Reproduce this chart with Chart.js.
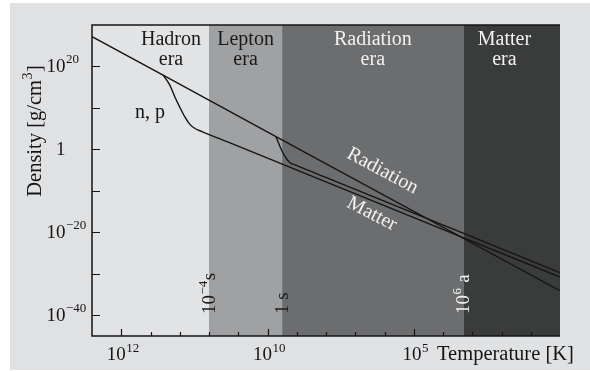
<!DOCTYPE html>
<html><head><meta charset="utf-8">
<script src="https://cdn.jsdelivr.net/npm/chart.js@4/dist/chart.umd.min.js"></script>
<style>html,body{margin:0;padding:0;background:#fff;}#wrap{width:590px;height:371px;}</style>
</head><body><div id="wrap"><canvas id="c" width="590" height="371"></canvas></div>
<script>
// ---- data (x: schematic temperature axis units, y: log10 density) ----
const eraBounds = [-1, 3, 5.5, 11.7, 15];
const eraNames = [["Hadron", "era"], ["Lepton", "era"], ["Radiation", "era"], ["Matter", "era"]];
const eraLabelAt = [1.7, 4.25, 8.6, 13.1];
const epochBase = ["10", "1 s", "10"];
const epochSup = ["−4", "", "6"];
const epochTail = ["s", "", " a"];
const xTickValues = [0, 1, 2, 3, 4, 5, 6, 7, 8, 9, 10, 11, 12, 13, 14];
const xMajorValues = [0, 5, 10];
const xLabelBase = ["10", "10", "10"];
const xLabelSup = ["12", "10", "5"];
const yTickValues = [20, 10, 0, -10, -20, -30, -40];
const yLabelValues = [20, 0, -20, -40];
const yLabelBase = ["10", "1", "10", "10"];
const yLabelSup = ["20", "", "−20", "−40"];
const radiation = [[-1, 27.2], [1.43, 17.9], [5.29, 3.07], [15, -34.07]];
const nucleons = [[1.43, 17.94], [1.66, 15.5], [1.83, 12.7], [2.0, 10.2], [2.17, 7.9], [2.34, 6.1], [2.51, 5.1], [2.76, 4.3], [3.72, 1.55], [15, -30.8]];
const leptons = [[5.29, 3.07], [5.43, 0.65], [5.6, -1.76], [5.77, -3.23], [5.94, -3.75], [7.14, -7.16], [15, -29.73]];

const eraColors = ['#e2e3e5', '#a0a1a3', '#6c6d6f', '#3a3b3b'];
const eraTextColors = ['#1a1a1a', '#1a1a1a', '#f2f2f2', '#f2f2f2'];
const epochTextColors = ['#1a1a1a', '#1a1a1a', '#f2f2f2'];
const FONT = '"Liberation Serif", "Times New Roman", serif';

function f(sz) { return sz + 'px ' + FONT; }
// draw base + superscript + tail, starting at x (left), baseline y
function supText(ctx, x, y, base, sup, tail, bs, ss, raise) {
  ctx.textAlign = 'left'; ctx.textBaseline = 'alphabetic';
  ctx.font = f(bs); ctx.fillText(base, x, y); x += ctx.measureText(base).width;
  if (sup) { ctx.font = f(ss); ctx.fillText(sup, x + 0.5, y - raise); x += ctx.measureText(sup).width + 1; }
  if (tail) { ctx.font = f(bs); ctx.fillText(tail, x, y); x += ctx.measureText(tail).width; }
  return x;
}
function supWidth(ctx, base, sup, tail, bs, ss) {
  ctx.font = f(bs); let w = ctx.measureText(base).width + (tail ? ctx.measureText(tail).width : 0);
  if (sup) { ctx.font = f(ss); w += ctx.measureText(sup).width + 1; }
  return w;
}

const bgPlugin = {
  id: 'bg',
  beforeDraw(chart) {
    const ctx = chart.ctx, a = chart.chartArea, xs = chart.scales.x;
    ctx.save();
    ctx.fillStyle = '#ffffff'; ctx.fillRect(0, 0, chart.width, chart.height);
    ctx.fillStyle = '#e0e1e3'; ctx.fillRect(10, 3, chart.width - 10, chart.height - 4);
    for (let i = 0; i < eraColors.length; i++) {
      const x0 = xs.getPixelForValue(eraBounds[i]), x1 = xs.getPixelForValue(eraBounds[i + 1]);
      ctx.fillStyle = eraColors[i];
      ctx.fillRect(x0, a.top, x1 - x0, a.bottom - a.top);
    }
    ctx.restore();
  }
};

const fgPlugin = {
  id: 'fg',
  afterDatasetsDraw(chart) {
    const ctx = chart.ctx, a = chart.chartArea, xs = chart.scales.x, ys = chart.scales.y;
    ctx.save();
    // frame
    ctx.strokeStyle = '#151515'; ctx.lineWidth = 1.5;
    ctx.beginPath();
    ctx.moveTo(a.right, a.top); ctx.lineTo(a.left, a.top); ctx.lineTo(a.left, a.bottom); ctx.lineTo(a.right, a.bottom);
    ctx.stroke();
    // ticks
    ctx.lineWidth = 1.2;
    ctx.beginPath();
    yTickValues.forEach(v => { const y = Math.round(ys.getPixelForValue(v)) + 0.5; ctx.moveTo(a.left, y); ctx.lineTo(a.left + 8, y); });
    xTickValues.forEach(v => {
      const x = Math.round(xs.getPixelForValue(v)) + 0.5;
      const len = xMajorValues.includes(v) ? 7 : 4;
      ctx.moveTo(x, a.bottom); ctx.lineTo(x, a.bottom - len);
    });
    ctx.stroke();
    // tick labels
    ctx.fillStyle = '#151515';
    yLabelValues.forEach((v, i) => {
      const y = ys.getPixelForValue(v) + 6;
      ctx.font = f(19); const wb = ctx.measureText(yLabelBase[i]).width;
      supText(ctx, 65.5 - wb, y, yLabelBase[i], yLabelSup[i], '', 19, 13, 9);
    });
    xMajorValues.forEach((v, i) => {
      const w = supWidth(ctx, xLabelBase[i], xLabelSup[i], '', 19, 13);
      const x = xs.getPixelForValue(v) + 2 - w / 2;
      supText(ctx, x, 360, xLabelBase[i], xLabelSup[i], '', 19, 13, 8);
    });
    // axis titles
    ctx.font = f(20.5); ctx.textAlign = 'left';
    ctx.fillText('Temperature [K]', 437, 360);
    ctx.save();
    const tw = supWidth(ctx, 'Density [g/cm', '3', ']', 20.5, 14);
    ctx.translate(40.5, 131); ctx.rotate(-Math.PI / 2);
    supText(ctx, -tw / 2, 0, 'Density [g/cm', '3', ']', 20.5, 14, 9);
    ctx.restore();
    // era labels
    eraNames.forEach((nm, i) => {
      ctx.fillStyle = eraTextColors[i]; ctx.font = f(20); ctx.textAlign = 'center'; ctx.textBaseline = 'alphabetic';
      const x = xs.getPixelForValue(eraLabelAt[i]);
      ctx.fillText(nm[0], x, a.top + 20);
      ctx.fillText(nm[1], x, a.top + 40);
    });
    // epoch labels (vertical)
    for (let i = 0; i < 3; i++) {
      ctx.save();
      ctx.fillStyle = epochTextColors[i];
      ctx.translate(xs.getPixelForValue(eraBounds[i + 1]) + 6, 314);
      ctx.rotate(-Math.PI / 2);
      supText(ctx, 0, 0, epochBase[i], epochSup[i], epochTail[i], 19, 13, 8);
      ctx.restore();
    }
    // curve labels
    ctx.fillStyle = '#151515'; ctx.font = f(20); ctx.textAlign = 'center'; ctx.textBaseline = 'alphabetic';
    ctx.fillText('n, p', xs.getPixelForValue(0.98), ys.getPixelForValue(7.6));
    const rot = [['Radiation', 8.93, -5.2, 28], ['Matter', 8.57, -15.58, 27]];
    rot.forEach(r => {
      ctx.save();
      ctx.fillStyle = '#f2f2f2'; ctx.font = f(20); ctx.textAlign = 'center'; ctx.textBaseline = 'middle';
      ctx.translate(xs.getPixelForValue(r[1]), ys.getPixelForValue(r[2]));
      ctx.rotate(r[3] * Math.PI / 180);
      ctx.fillText(r[0], 0, 0);
      ctx.restore();
    });
    ctx.restore();
  }
};

const toXY = arr => arr.map(p => ({ x: p[0], y: p[1] }));
const lineStyle = { borderColor: '#151515', borderWidth: 1.4, pointRadius: 0, fill: false };
new Chart(document.getElementById('c'), {
  type: 'line',
  data: {
    datasets: [
      Object.assign({ label: 'Radiation', data: toXY(radiation), tension: 0 }, lineStyle),
      Object.assign({ label: 'n, p', data: toXY(nucleons), cubicInterpolationMode: 'monotone' }, lineStyle),
      Object.assign({ label: 'Leptons', data: toXY(leptons), cubicInterpolationMode: 'monotone' }, lineStyle)
    ]
  },
  options: {
    responsive: false, animation: false, devicePixelRatio: 1,
    layout: { padding: { left: 0, right: 30, top: 25, bottom: 0 } },
    plugins: { legend: { display: false }, tooltip: { enabled: false } },
    scales: {
      x: { type: 'linear', min: -1, max: 15, grid: { display: false }, border: { display: false }, ticks: { display: false }, afterFit(s) { s.height = 35; } },
      y: { type: 'linear', min: -45, max: 30, grid: { display: false }, border: { display: false }, ticks: { display: false }, afterFit(s) { s.width = 92; } }
    }
  },
  plugins: [bgPlugin, fgPlugin]
});
</script></body></html>
